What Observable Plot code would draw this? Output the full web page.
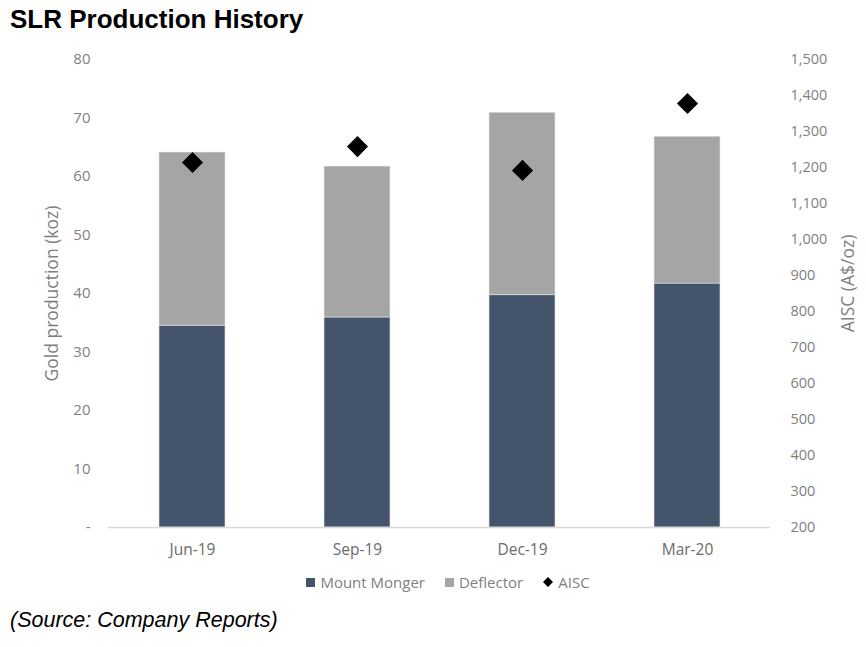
<!DOCTYPE html>
<html>
<head>
<meta charset="utf-8">
<script src="https://cdn.jsdelivr.net/npm/d3@7"></script>
<script src="https://cdn.jsdelivr.net/npm/@observablehq/plot@0.6"></script>
<style>
  html, body { margin: 0; padding: 0; background: #fff; }
  #wrap { position: relative; width: 866px; height: 647px; overflow: hidden; }
  #title { position: absolute; left: 10px; top: 4px; font: bold 26px "Liberation Sans", Arial, sans-serif; color: #000; white-space: nowrap; }
  #chart { position: absolute; left: 0; top: 40px; }
  #legend { position: absolute; left: 0; width: 896px; top: 572px; display: flex; justify-content: center; align-items: center;
            font: 15px "Open Sans", sans-serif; color: #7f7f7f; white-space: nowrap; }
  #legend .item { display: flex; align-items: center; margin: 0 10px; }
  #legend .sw { width: 9px; height: 9px; margin-right: 5px; }
  #caption { position: absolute; left: 10px; top: 608px; font: italic 21.5px "Liberation Sans", Arial, sans-serif; color: #000; white-space: nowrap; }
</style>
</head>
<body>
<div id="wrap">
  <div id="title">SLR Production History</div>
  <div id="chart"></div>
  <div id="legend"></div>
  <div id="caption">(Source: Company Reports)</div>
</div>
<script>
const quarters = ["Jun-19", "Sep-19", "Dec-19", "Mar-20"];
const mountMonger = [34.5, 35.9, 39.7, 41.7];
const deflector = [29.6, 25.8, 31.2, 25.1];
const aisc = [1214, 1258, 1192, 1378];
const leftTicks = [0, 10, 20, 30, 40, 50, 60, 70, 80];
const rightTicks = [200, 300, 400, 500, 600, 700, 800, 900, 1000, 1100, 1200, 1300, 1400, 1500];
const seriesNames = ["Mount Monger", "Deflector"];
const seriesColors = ["#44546a", "#a5a5a5"];

// secondary axis mapping onto primary y domain [0, 80]
const rMin = 200, rMax = 1500, lMax = 80;
const toLeft = v => (v - rMin) / (rMax - rMin) * lMax;
const fromLeft = v => v / lMax * (rMax - rMin) + rMin;

const stacked = [];
quarters.forEach((q, i) => {
  stacked.push({quarter: q, series: seriesNames[0], value: mountMonger[i]});
  stacked.push({quarter: q, series: seriesNames[1], value: deflector[i]});
});
const aiscData = quarters.map((q, i) => ({quarter: q, aisc: aisc[i]}));

const tickColor = "#7f7f7f";
const font = '"Open Sans", sans-serif';

const chart = Plot.plot({
  width: 866,
  height: 530,
  marginLeft: 108,
  marginRight: 96,
  marginTop: 19,
  marginBottom: 43,
  style: {fontFamily: font, fontSize: "14px", color: tickColor, background: "transparent"},
  x: {domain: quarters, paddingInner: 0.6, paddingOuter: 0.306, label: null},
  y: {domain: [0, 80], label: null},
  color: {domain: seriesNames, range: seriesColors},
  marks: [
    Plot.barY(stacked, {x: "quarter", y: "value", fill: "series", stroke: "#e8e8e8", strokeWidth: 0.6}),
    Plot.ruleY([0], {stroke: "#d9d9d9", strokeWidth: 1.5}),
    Plot.dot(aiscData, {x: "quarter", y: d => toLeft(d.aisc), symbol: "diamond2", fill: "#000", stroke: "none", r: 9.5}),
    Plot.axisY(leftTicks, {anchor: "left", tickSize: 0, tickPadding: 18, label: null,
      tickFormat: d => d === 0 ? "-" : String(d), fill: tickColor, fontSize: 15}),
    Plot.axisY(rightTicks.map(toLeft), {anchor: "right", tickSize: 0, tickPadding: 20, label: null,
      tickFormat: d => d3.format(",")(Math.round(fromLeft(d))), fill: tickColor, fontSize: 14.5}),
    Plot.axisX({anchor: "bottom", tickSize: 0, tickPadding: 16, label: null, fill: "#6b6b6b", fontSize: 15.5}),
    Plot.text(["Gold production (koz)"], {frameAnchor: "left", dx: -56, rotate: -90, textAnchor: "middle", fill: tickColor, fontSize: 17.5}),
    Plot.text(["AISC (A$/oz)"], {frameAnchor: "right", dx: 78, dy: -10, rotate: -90, textAnchor: "middle", fill: tickColor, fontSize: 17.5})
  ]
});
document.getElementById("chart").appendChild(chart);

// legend built from the same series arrays
const legend = document.getElementById("legend");
seriesNames.forEach((name, i) => {
  const item = document.createElement("div");
  item.className = "item";
  const sw = document.createElement("span");
  sw.className = "sw";
  sw.style.background = seriesColors[i];
  item.appendChild(sw);
  item.appendChild(document.createTextNode(name));
  legend.appendChild(item);
});
const aItem = document.createElement("div");
aItem.className = "item";
aItem.innerHTML = '<svg width="10" height="10" style="margin-right:5px"><path d="M5,0L10,5L5,10L0,5Z" fill="#000"/></svg>AISC';
legend.appendChild(aItem);
</script>
</body>
</html>
